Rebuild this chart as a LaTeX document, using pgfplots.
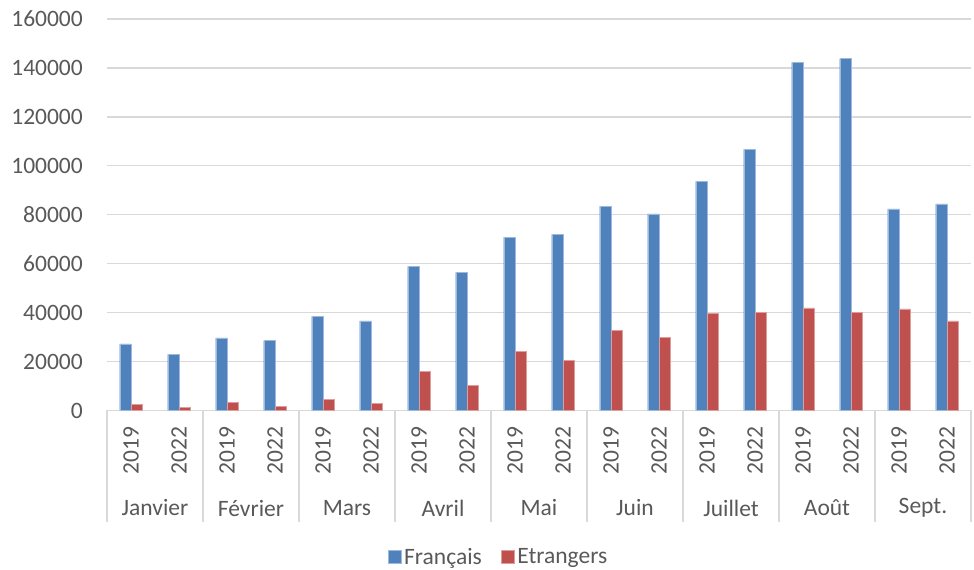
\documentclass[border=0pt]{standalone}
\usepackage{fontspec}
\setmainfont{Carlito}
\usepackage{pgfplots}
\pgfplotsset{compat=1.18}
\definecolor{bleu}{HTML}{4F81BD}
\definecolor{rouge}{HTML}{C0504D}
\definecolor{grille}{HTML}{D9D9D9}
\definecolor{texte}{HTML}{595959}
\newcommand{\lbl}{\fontsize{23.5bp}{28bp}\selectfont}
\begin{document}
\begin{tikzpicture}[x=1bp,y=1bp]
\useasboundingbox (0,0) rectangle (974,570);
\begin{axis}[
  at={(107bp,159.5bp)}, anchor=south west,
  scale only axis, width=864bp, height=391.5bp,
  xmin=-0.5, xmax=17.5, ymin=0, ymax=160000,
  ybar=0pt, bar width=11.3bp,
  clip=false,
  axis lines*=left,
  y axis line style={draw=none},
  x axis line style={draw=grille, line width=1.3bp},
  ymajorgrids, grid style={draw=grille, line width=1.3bp},
  major tick length=0pt, tick style={draw=none},
  ytick={0,20000,...,160000},
  scaled y ticks=false,
  /pgf/number format/assume math mode=true,
  yticklabel style={/pgf/number format/fixed, /pgf/number format/1000 sep={}, inner sep=0pt, anchor=east},
  yticklabel shift=24bp,
  xtick={0,...,17},
  xticklabels={2019,2022,2019,2022,2019,2022,2019,2022,2019,2022,2019,2022,2019,2022,2019,2022,2019,2022},
  xticklabel style={rotate=90, anchor=east, inner sep=0pt},
  xticklabel shift=16bp,
  tick label style={font=\lbl, text=texte},
  legend columns=2,
  legend style={at={(0.4537,-0.374)}, anchor=center, draw=none, fill=none, font=\lbl, text=texte,
    nodes={inner xsep=3bp, inner ysep=2bp},
    /tikz/every even column/.append style={column sep=16bp}},
  legend image code/.code={\fill[#1] (0bp,-6.5bp) rectangle (13bp,6.5bp);},
]
\addplot[fill=bleu, draw=bleu!55!white, line width=0.4bp] coordinates {
 (0,27200) (1,22900) (2,29700) (3,28600) (4,38500) (5,36600)
 (6,58900) (7,56400) (8,70900) (9,72000) (10,83500) (11,80400)
 (12,93600) (13,106700) (14,142300) (15,143800) (16,82400) (17,84400)};
\addplot[fill=rouge, draw=rouge!55!white, line width=0.4bp] coordinates {
 (0,2500) (1,1300) (2,3300) (3,1600) (4,4600) (5,3000)
 (6,15900) (7,10400) (8,24200) (9,20500) (10,32800) (11,29800)
 (12,39600) (13,40000) (14,41900) (15,40200) (16,41500) (17,36600)};
\legend{Français, Etrangers}
\pgfplotsinvokeforeach{-0.5,1.5,3.5,5.5,7.5,9.5,11.5,13.5,15.5,17.5}{
  \draw[grille, line width=1.3bp] (axis cs:#1,0) -- ([yshift=-112bp]axis cs:#1,0);
}
\node[font=\lbl, text=texte, yshift=-97.5bp] at (axis cs:0.5,0) {Janvier};
\node[font=\lbl, text=texte, yshift=-97.5bp] at (axis cs:2.5,0) {Février};
\node[font=\lbl, text=texte, yshift=-97.5bp] at (axis cs:4.5,0) {Mars};
\node[font=\lbl, text=texte, yshift=-97.5bp] at (axis cs:6.5,0) {Avril};
\node[font=\lbl, text=texte, yshift=-97.5bp] at (axis cs:8.5,0) {Mai};
\node[font=\lbl, text=texte, yshift=-97.5bp] at (axis cs:10.5,0) {Juin};
\node[font=\lbl, text=texte, yshift=-97.5bp] at (axis cs:12.5,0) {Juillet};
\node[font=\lbl, text=texte, yshift=-97.5bp] at (axis cs:14.5,0) {Août};
\node[font=\lbl, text=texte, yshift=-97.5bp] at (axis cs:16.5,0) {Sept.};
\end{axis}
\end{tikzpicture}
\end{document}
